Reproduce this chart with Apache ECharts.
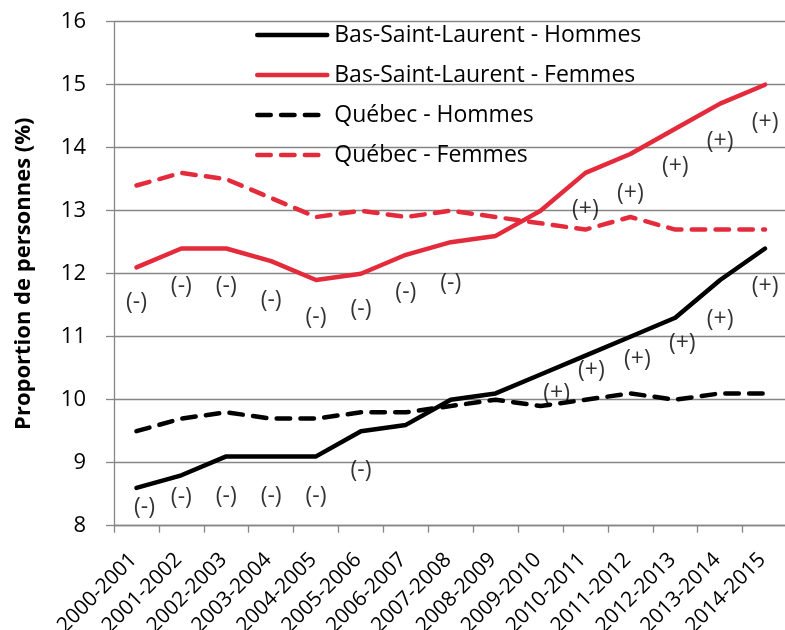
<!DOCTYPE html>
<html><head><meta charset="utf-8">
<script src="https://cdn.jsdelivr.net/npm/echarts@6/dist/echarts.min.js"></script>
<style>html,body{margin:0;padding:0;background:#fff}#c{width:785px;height:630px}</style>
</head><body><div id="c"></div>
<script>
const categories = ['2000-2001','2001-2002','2002-2003','2003-2004','2004-2005','2005-2006','2006-2007','2007-2008','2008-2009','2009-2010','2010-2011','2011-2012','2012-2013','2013-2014','2014-2015'];
const bslHommes = [8.6, 8.8, 9.1, 9.1, 9.1, 9.5, 9.6, 10.0, 10.1, 10.4, 10.7, 11.0, 11.3, 11.9, 12.4];
const bslFemmes = [12.1, 12.4, 12.4, 12.2, 11.9, 12.0, 12.3, 12.5, 12.6, 13.0, 13.6, 13.9, 14.3, 14.7, 15.0];
const qcHommes = [9.5, 9.7, 9.8, 9.7, 9.7, 9.8, 9.8, 9.9, 10.0, 9.9, 10.0, 10.1, 10.0, 10.1, 10.1];
const qcFemmes = [13.4, 13.6, 13.5, 13.2, 12.9, 13.0, 12.9, 13.0, 12.9, 12.8, 12.7, 12.9, 12.7, 12.7, 12.7];
const bslHommesSig = ['(-)','(-)','(-)','(-)','(-)','(-)','','','','(+)','(+)','(+)','(+)','(+)','(+)'];
const bslFemmesSig = ['(-)','(-)','(-)','(-)','(-)','(-)','(-)','(-)','','','(+)','(+)','(+)','(+)','(+)'];
const yTicks = [8, 9, 10, 11, 12, 13, 14, 15, 16];
const seriesNames = ['Bas-Saint-Laurent - Hommes','Bas-Saint-Laurent - Femmes','Québec - Hommes','Québec - Femmes'];

// label placement (style only, pixel offsets from the point)
const hommesOffsets = [[8,20],[0,22],[0,40],[0,40],[0,40],[0,39],[0,0],[0,0],[0,0],[16,19],[6,15],[7,23],[7,26],[0,39],[0,38]];
const femmesOffsets = [[0,35],[0,38],[0,38],[0,39],[0,37],[0,36],[0,38],[0,41],[0,0],[0,0],[0,37],[0,39],[0,38],[0,38],[0,38]];

const RED = '#E42B3C';
const FONT = 'Open Sans';
const LW = 4.5;
const DASH = [13.5, 10.3];

function sigSeries(values, sigs, offsets) {
  return {
    type: 'scatter', silent: true, symbolSize: 1, z: 5,
    itemStyle: { color: 'rgba(0,0,0,0)' },
    data: values.map((v, i) => ({
      value: [i, v],
      label: { show: sigs[i] !== '', formatter: sigs[i], position: 'inside', offset: offsets[i],
               color: '#000', fontSize: 23, fontFamily: FONT }
    }))
  };
}

function lineSeries(name, data, color, dashed, z) {
  const ls = { color: color, width: LW, cap: 'round', join: 'round' };
  if (dashed) ls.type = DASH;
  return { name: name, type: 'line', data: data, symbol: 'none', z: z, lineStyle: ls, itemStyle: { color: color } };
}

const chart = echarts.init(document.getElementById('c'), null, {renderer: 'canvas'});
chart.setOption({
  animation: false,
  backgroundColor: '#fff',
  textStyle: { fontFamily: FONT },
  grid: { left: 114, right: -2.5, top: 21.7, bottom: 104.3, containLabel: false, outerBoundsMode: 'none' },
  legend: {
    data: seriesNames.map(n => ({ name: n, itemStyle: { opacity: 0 } })),
    orient: 'vertical', left: 250, top: 18.5,
    itemWidth: 70, itemHeight: 14, itemGap: 17,
    lineStyle: { width: LW, cap: 'round' },
    textStyle: { fontFamily: FONT, fontSize: 23, color: '#000', padding: [0,0,0,2] }
  },
  xAxis: {
    type: 'category', data: categories, boundaryGap: true,
    axisLine: { lineStyle: { color: '#868686', width: 1.3 } },
    axisTick: { show: true, length: 7, alignWithLabel: false, lineStyle: { color: '#868686', width: 1.3 } },
    axisLabel: { interval: 0, rotate: 45, fontSize: 21, color: '#000', fontFamily: FONT, margin: 28,
                 align: 'right', verticalAlign: 'middle', padding: [11, 4, 0, 0], hideOverlap: false },
    splitLine: { show: false }
  },
  yAxis: {
    type: 'value', min: yTicks[0], max: yTicks[yTicks.length - 1], interval: 1,
    name: 'Proportion de personnes (%)', nameLocation: 'middle', nameGap: 79, nameRotate: 90,
    nameTextStyle: { fontSize: 22, fontWeight: 'bold', color: '#000', fontFamily: FONT },
    axisLine: { show: true, lineStyle: { color: '#868686', width: 1.3 } },
    axisTick: { show: true, length: 8, lineStyle: { color: '#868686', width: 1.3 } },
    axisLabel: { fontSize: 22, color: '#000', fontFamily: FONT, margin: 28 },
    splitLine: { show: true, lineStyle: { color: '#868686', width: 1.3 } }
  },
  series: [
    lineSeries(seriesNames[0], bslHommes, '#000', false, 4),
    lineSeries(seriesNames[1], bslFemmes, RED, false, 4),
    lineSeries(seriesNames[2], qcHommes, '#000', true, 3),
    lineSeries(seriesNames[3], qcFemmes, RED, true, 3),
    sigSeries(bslHommes, bslHommesSig, hommesOffsets),
    sigSeries(bslFemmes, bslFemmesSig, femmesOffsets)
  ]
});
</script></body></html>
